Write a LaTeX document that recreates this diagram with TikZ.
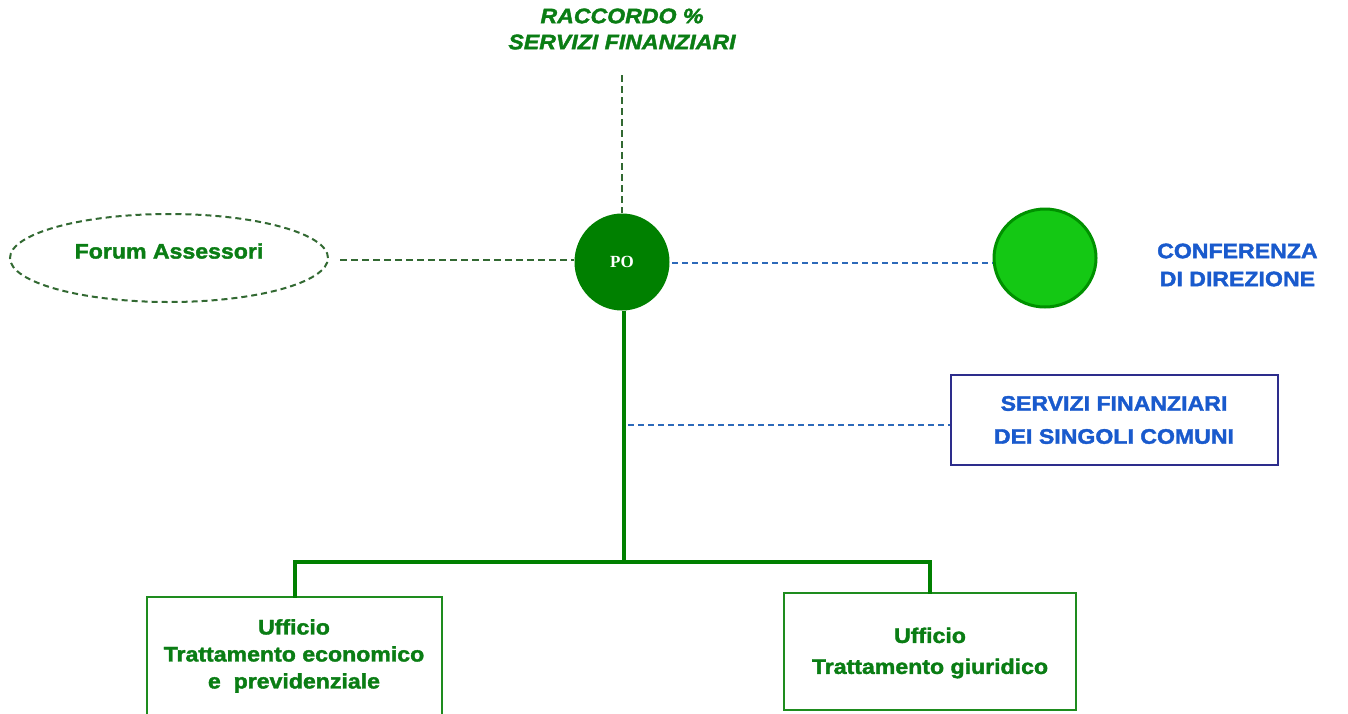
\documentclass[tikz,border=0pt]{standalone}
\usetikzlibrary{shapes.geometric}
\usepackage{fontspec}
\newfontfamily\hv[FakeStretch=1.1,FakeBold=1.8]{Liberation Sans}
\newfontfamily\poserif{Liberation Serif}
\definecolor{dkgreen}{RGB}{0,128,0}
\definecolor{txgreen}{RGB}{10,125,20}
\definecolor{ltgreen}{RGB}{20,200,20}
\definecolor{ltgreenb}{RGB}{0,145,0}
\definecolor{dashgreen}{RGB}{50,105,50}
\definecolor{dashblue}{RGB}{45,105,185}
\definecolor{txblue}{RGB}{25,90,205}
\definecolor{navy}{RGB}{45,45,140}
\definecolor{boxgreen}{RGB}{30,140,30}
\tikzset{
  hvtext/.style={font=\hv\bfseries\fontsize{21}{27}\selectfont, align=center, inner sep=0pt},
  greendash/.style={draw=dashgreen, line width=2.2pt, dash pattern=on 7pt off 4pt},
  bluedash/.style={draw=dashblue, line width=2.2pt, dash pattern=on 6pt off 4pt},
  orgline/.style={draw=dkgreen, line width=4pt},
  ufficiobox/.style={draw=boxgreen, line width=1.5pt, fill=white},
}
\begin{document}
\begin{tikzpicture}[x=1pt,y=-1pt]
\useasboundingbox[fill=white] (0,0) rectangle (1348,713);
% title
\node[hvtext, text=txgreen, font=\hv\bfseries\itshape\fontsize{21}{26}\selectfont] (raccordo) at (622,29) {RACCORDO \%\\SERVIZI FINANZIARI};
\coordinate (racend) at (622,75);
% PO
\node[ellipse, fill=dkgreen, minimum width=95pt, minimum height=97pt, inner sep=0pt,
      text=white, font=\poserif\bfseries\fontsize{17}{19}\selectfont] (po) at (622,262) {PO};
% Forum
\node[ellipse, draw=dashgreen, line width=2pt, dash pattern=on 6pt off 4pt,
      minimum width=318pt, minimum height=88pt, inner sep=0pt] (forum) at (169,258) {};
\node[hvtext, text=txgreen] (forumtxt) at (169,251) {Forum Assessori};
% Conferenza circle
\node[ellipse, fill=ltgreen, draw=ltgreenb, line width=3pt, minimum width=102pt, minimum height=98pt, inner sep=0pt] (conf) at (1045,258) {};
\node[hvtext, text=txblue, anchor=west] (conftxt) at (1157,265) {CONFERENZA\\[1pt]DI DIREZIONE};
% Servizi box
\node[draw=navy, line width=1.5pt, minimum width=327pt, minimum height=90pt, inner sep=0pt] (servbox) at (1114.5,420) {};
\node[hvtext, text=txblue] (servtxt) at (1114,420) {SERVIZI FINANZIARI\\[6pt]DEI SINGOLI COMUNI};
% Uffici boxes
\node[ufficiobox, minimum width=295pt, minimum height=134pt, inner sep=0pt] (uf1) at (294.5,664) {};
\node[hvtext, text=txgreen] (uf1txt) at (294,656) {Ufficio\\Trattamento economico\\e\ \ previdenziale};
\node[ufficiobox, minimum width=292pt, minimum height=117pt, inner sep=0pt] (uf2) at (930,651.5) {};
\node[hvtext, text=txgreen] (uf2txt) at (930,653) {Ufficio\\[4pt]Trattamento giuridico};
% connectors
\draw[greendash] (racend) -- (po.north);
\coordinate (fs) at (340,260);
\draw[greendash] (fs) -- (po.west |- fs);
\coordinate (pe) at (672,263);
\draw[bluedash] (pe) -- (conf.west |- pe);
\coordinate (jn) at (624,562);
\coordinate (sv) at (628,425);
\draw[orgline] (po.south -| jn) -- (jn);
\draw[bluedash] (sv) -- (servbox.west |- sv);
\draw[orgline, line cap=rect] (jn) -- (uf1.north |- jn) -- (uf1.north);
\draw[orgline, line cap=rect] (jn) -- (uf2.north |- jn) -- (uf2.north);
\end{tikzpicture}
\end{document}
